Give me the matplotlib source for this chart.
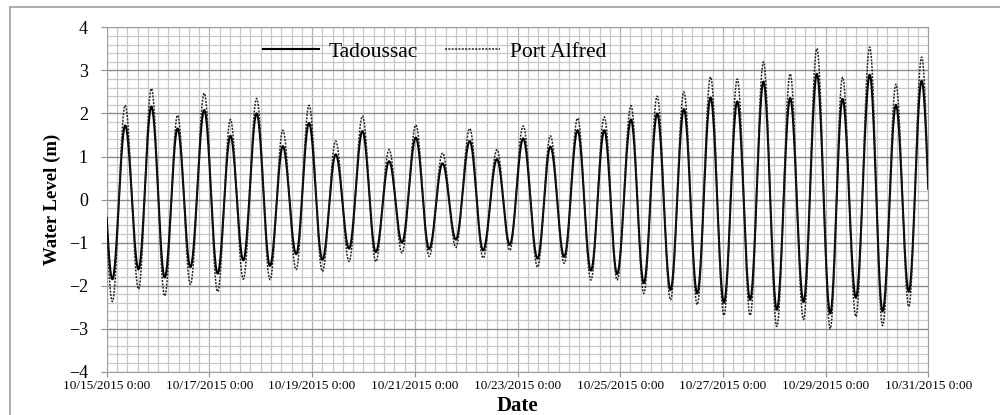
import datetime as dt

import numpy as np
import matplotlib
matplotlib.use('Agg')
import matplotlib.pyplot as plt
from matplotlib.ticker import MultipleLocator, FuncFormatter
from matplotlib.lines import Line2D

plt.rcParams['font.family'] = ['Liberation Serif', 'DejaVu Serif']

start_date = dt.datetime(2015, 10, 15)

# high / low water times (days after 10/15/2015 0:00) and levels (m),
# read off the chart; first and last entries lie just outside the window
extreme_day = [-0.15, 0.11, 0.36, 0.62, 0.87, 1.13, 1.38, 1.63, 1.90, 2.16,
               2.41, 2.66, 2.92, 3.18, 3.43, 3.69, 3.94, 4.20, 4.46, 4.72,
               4.98, 5.24, 5.50, 5.75, 6.02, 6.28, 6.54, 6.80, 7.07, 7.33,
               7.60, 7.85, 8.11, 8.39, 8.64, 8.91, 9.17, 9.43, 9.69, 9.94,
               10.21, 10.46, 10.72, 10.98, 11.24, 11.50, 11.76, 12.02, 12.28,
               12.53, 12.79, 13.05, 13.31, 13.57, 13.83, 14.09, 14.33, 14.59,
               14.86, 15.11, 15.37, 15.62, 15.87, 16.13]

tadoussac_level = [1.90, -1.85, 1.72, -1.62, 2.16, -1.81, 1.65, -1.57, 2.08,
                   -1.72, 1.48, -1.41, 2.00, -1.54, 1.24, -1.27, 1.78, -1.40,
                   1.05, -1.14, 1.59, -1.22, 0.89, -1.00, 1.44, -1.15, 0.84,
                   -0.93, 1.36, -1.18, 0.94, -1.05, 1.42, -1.37, 1.23, -1.33,
                   1.61, -1.65, 1.61, -1.73, 1.86, -1.94, 2.00, -2.10, 2.10,
                   -2.18, 2.37, -2.40, 2.28, -2.33, 2.74, -2.56, 2.36, -2.38,
                   2.92, -2.65, 2.34, -2.28, 2.90, -2.60, 2.20, -2.14, 2.76,
                   -2.26]

port_alfred_level = [2.40, -2.37, 2.19, -2.08, 2.58, -2.24, 1.96, -1.97, 2.47,
                     -2.14, 1.86, -1.85, 2.35, -1.86, 1.61, -1.63, 2.19, -1.67,
                     1.36, -1.44, 1.94, -1.44, 1.16, -1.24, 1.73, -1.32, 1.08,
                     -1.11, 1.65, -1.36, 1.16, -1.18, 1.71, -1.57, 1.48, -1.48,
                     1.89, -1.87, 1.92, -1.87, 2.18, -2.18, 2.40, -2.33, 2.50,
                     -2.44, 2.85, -2.69, 2.80, -2.69, 3.20, -2.95, 2.92, -2.79,
                     3.51, -3.00, 2.84, -2.72, 3.54, -2.93, 2.68, -2.49, 3.31,
                     -2.70]


def tide_curve(t_ext, h_ext, t):
    # half-cosine shape between successive high and low waters
    t_ext = np.asarray(t_ext)
    h_ext = np.asarray(h_ext)
    i = np.clip(np.searchsorted(t_ext, t) - 1, 0, len(t_ext) - 2)
    frac = (t - t_ext[i]) / (t_ext[i + 1] - t_ext[i])
    w = (1 - np.cos(np.pi * frac)) / 2
    return h_ext[i] + (h_ext[i + 1] - h_ext[i]) * w


t = np.linspace(0, 16, 3200)
tad = tide_curve(extreme_day, tadoussac_level, t)
pal = tide_curve(extreme_day, port_alfred_level, t)

fig = plt.figure(figsize=(10, 4.15), dpi=100)
ax = fig.add_axes([0.1067, 0.1043, 0.8216, 0.8297])

ax.plot(t, tad, color='black', lw=1.5, label='Tadoussac', zorder=3)
ax.plot(t, pal, color='#222222', lw=1.1, linestyle=(0, (1.3, 0.9)),
        label='Port Alfred', zorder=4)

ax.set_xlim(0, 16)
ax.set_ylim(-4, 4)
ax.xaxis.set_major_locator(MultipleLocator(2))
ax.xaxis.set_minor_locator(MultipleLocator(0.2))
ax.yaxis.set_major_locator(MultipleLocator(1))
ax.yaxis.set_minor_locator(MultipleLocator(0.2))


def date_label(x, pos):
    d = start_date + dt.timedelta(days=float(x))
    return '%d/%d/%d %d:%02d' % (d.month, d.day, d.year, d.hour, d.minute)


ax.xaxis.set_major_formatter(FuncFormatter(date_label))
ax.yaxis.set_major_formatter(FuncFormatter(lambda v, p: '%d' % v if v >= 0
                                           else '\u2212%d' % -v))

ax.set_axisbelow(True)
ax.grid(which='minor', color='#c8c8c8', lw=0.9)
ax.grid(which='major', axis='x', color='#b0b0b0', lw=0.9)
ax.grid(which='major', axis='y', color='#8c8c8c', lw=1.0)

for sp in ax.spines.values():
    sp.set_color('#a0a0a0')

ax.tick_params(axis='x', which='major', length=3.6, color='#909090',
               labelsize=9.5, pad=2.5)
ax.tick_params(axis='y', which='major', length=4.5, color='#909090',
               labelsize=13, pad=9)
ax.tick_params(which='minor', length=0)

ax.set_ylabel('Water Level (m)', fontsize=13.5, fontweight='bold')
ax.yaxis.set_label_coords(-0.056, 0.5)
ax.set_xlabel('Date', fontsize=15, fontweight='bold')
ax.xaxis.set_label_coords(0.5, -0.07)

ax.legend(loc='upper left', bbox_to_anchor=(0.263, 0.90),
          bbox_transform=fig.transFigure, ncol=2, frameon=False,
          fontsize=15.5, handlelength=2.6, handletextpad=0.43,
          columnspacing=1.25, borderpad=0, borderaxespad=0)

# outer chart frame (cut off at right and bottom)
fig.add_artist(Line2D([0.01, 1.0], [1 - 7.3 / 415] * 2,
                      color='#a0a0a0', lw=1.2))
fig.add_artist(Line2D([0.01, 0.01], [0.0, 1 - 7.3 / 415],
                      color='#a0a0a0', lw=1.2))

fig.savefig('out.png', dpi=100)
